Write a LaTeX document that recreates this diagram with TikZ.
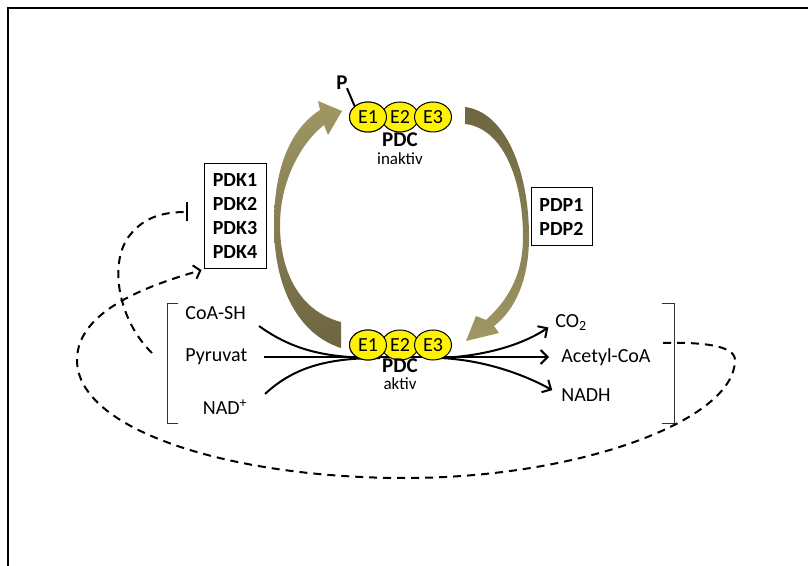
\documentclass[tikz,border=0pt]{standalone}
\usepackage{fontspec}
\setmainfont{Carlito}
\usetikzlibrary{arrows.meta,shapes.geometric}
\definecolor{olivedk}{RGB}{108,101,64}
\definecolor{olivelt}{RGB}{160,151,100}
\tikzset{
  enz/.style={draw, line width=0.5pt, fill=yellow, ellipse, minimum width=18.5pt, minimum height=15pt, inner sep=0pt, font=\fontsize{10}{12}\selectfont},
  met/.style={inner sep=0pt, font=\fontsize{10}{12}\selectfont},
  kin/.style={draw, line width=0.5pt, align=center, inner sep=0pt, font=\bfseries\fontsize{10}{12}\selectfont},
  cpx/.style={inner sep=0pt, font=\bfseries\fontsize{10.5}{12}\selectfont},
  state/.style={inner sep=0pt, font=\fontsize{8.5}{10}\selectfont},
  flow/.style={-{Straight Barb[length=3.5pt,width=7pt]}, line width=1pt},
  feed/.style={dash pattern=on 4pt off 3pt, line width=1pt},
  brk/.style={line width=0.5pt, draw=black!80},
}

\begin{document}
\begin{tikzpicture}[x=0.5pt, y=-0.5pt]
  \useasboundingbox (0,0) rectangle (808,566);
  \draw[line width=1pt] (8,566) -- (8,8) -- (808,8);

  % brackets round substrates and products
  \draw[brk] (178,304) -- (167,304) -- (167,423) -- (178,423);
  \draw[brk] (662,304) -- (674,304) -- (674,423) -- (662,423);

  \node[met, anchor=west] (coa) at (185,313) {CoA-SH};
  \node[met, anchor=west] (pyr) at (185,357) {Pyruvat};
  \node[met, anchor=east] (nad) at (248,407) {NAD\textsuperscript{+}};
  \node[met, anchor=west] (co2) at (555,323) {CO\textsubscript{2}};
  \node[met, anchor=west] (acc) at (561,357) {Acetyl-CoA};
  \node[met, anchor=west] (nadh) at (561,395) {NADH};

  \node[kin, minimum width=31pt, minimum height=52.5pt] (pdk) at (235,216.5) {PDK1\\PDK2\\PDK3\\PDK4};
  \node[kin, minimum width=30.5pt, minimum height=29pt] (pdp) at (561.5,217) {PDP1\\PDP2};

  % reaction lines
  \coordinate (coaend) at (259,326);
  \coordinate (nadend) at (265,394);
  \coordinate (join) at (380,358);
  \coordinate (split) at (440,358);
  \draw[line width=1pt] (coaend) .. controls (295,352) and (330,358) .. (join);
  \draw[line width=1pt] (nadend) .. controls (295,366) and (330,358) .. (join);
  \draw[flow, shorten <=8pt, shorten >=6pt] (pyr.east) -- (acc.west);
  \draw[flow, shorten >=4pt] (split) .. controls (485,356) and (522,345) .. (co2.west);
  \draw[flow, shorten >=5pt] (split) .. controls (485,360) and (525,375) .. (nadh.west);

  % big conversion arrows
  \shade[top color=olivelt, bottom color=olivedk]
    (341,348) .. controls (300,335) and (274,290) .. (274,225)
    .. controls (274,165) and (292,128) .. (320,110)
    -- (318,101) -- (342,111) -- (328,135) -- (324,125)
    .. controls (302,142) and (280,180) .. (280,225)
    .. controls (280,275) and (302,312) .. (341,322) -- cycle;
  \shade[top color=olivedk, bottom color=olivelt]
    (465,107) .. controls (505,112) and (529,170) .. (529,237)
    .. controls (529,280) and (515,310) .. (494,326)
    -- (499,333) -- (466,341) -- (476,316) -- (486,320)
    .. controls (508,300) and (523,275) .. (523,237)
    .. controls (523,180) and (503,128) .. (465,124) -- cycle;

  % PDC inactive
  \node[enz] (e1i) at (368,117) {E1};
  \node[enz] (e2i) at (400,117) {E2};
  \node[enz] (e3i) at (433,117) {E3};
  \node[enz] (e1i) at (368,117) {E1};
  \node[font=\bfseries\fontsize{10.5}{12}\selectfont, inner sep=0pt] (pho) at (342,83) {P};
  \draw[line width=1pt] ([xshift=-0.5pt, yshift=1pt]pho.south east) -- (e1i.north west);
  \node[cpx] (pdci) at (400,140) {PDC};
  \node[state] (inak) at (400,159) {inaktiv};

  % PDC active
  \node[enz] (e1a) at (368,345) {E1};
  \node[enz] (e2a) at (400,345) {E2};
  \node[enz] (e3a) at (433,345) {E3};
  \node[enz] (e1a) at (368,345) {E1};
  \node[cpx] (pdca) at (400,366) {PDC};
  \node[state] (akt) at (400,384) {aktiv};

  % feedback loops
  \coordinate (inhstart) at (152,353);
  \coordinate (loopstart) at (663,343);
  \draw[feed, -{Bar[width=9.5pt,line width=1pt]}] (inhstart)
    .. controls (118,320) and (108,262) .. (130,235)
    .. controls (145,216) and (165,212) .. (188,212);
  \draw[feed, -{Straight Barb[length=3pt,width=7pt]}, shorten >=1pt] (loopstart)
    .. controls (700,342) and (735,345) .. (735,360)
    .. controls (735,420) and (580,478) .. (405,478)
    .. controls (230,478) and (77,430) .. (77,360)
    .. controls (77,310) and (150,285) .. (pdk.south west);
\end{tikzpicture}
\end{document}
